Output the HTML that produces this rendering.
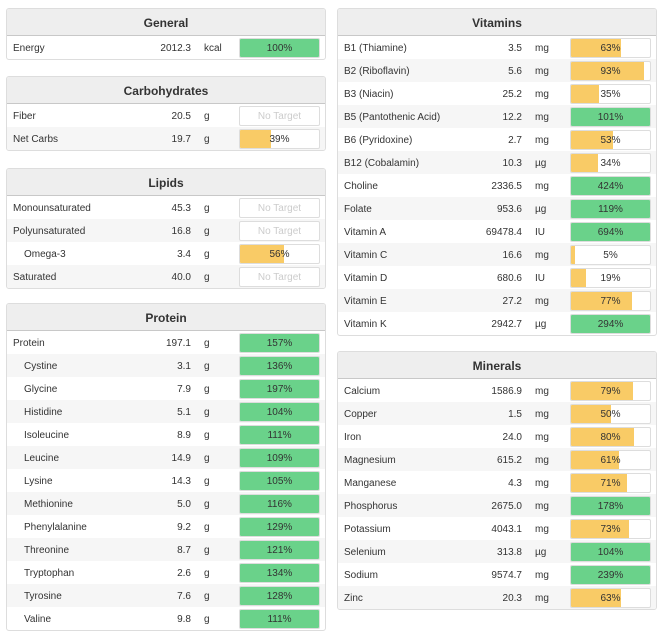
<!DOCTYPE html>
<html><head><meta charset="utf-8"><style>
body{margin:0;width:662px;height:638px;background:#fff;font-family:"Liberation Sans",sans-serif;font-size:10px;color:#333;position:relative;overflow:hidden}
.panel{position:absolute;width:318px;border:1px solid #ddd;border-radius:3px;background:#fff;overflow:hidden}
.hdr{height:26px;line-height:28px;background:#eee;border-bottom:1px solid #c8c8c8;text-align:center;font-weight:bold;font-size:12px;color:#333}
.row{position:relative;height:23px;line-height:25px}
.row:nth-child(even){background:#f6f6f6}
.nm{position:absolute;left:6px}
.nm.sub{left:17px}
.val{position:absolute;right:134px;text-align:right}
.unit{position:absolute;left:197px}
.bar{position:absolute;left:232px;top:2px;width:79px;height:18px;border:1px solid #ddd;border-radius:2px;background:#fff;overflow:hidden}
.fill{position:absolute;left:0;top:0;bottom:0}
.bt{position:absolute;left:0;right:0;top:0;line-height:20px;text-align:center;color:#333}
.bt.nt{color:#ccc}
</style></head><body>
<div id="root"></div>
<script>
const panels=[
 {title:"General",x:6,y:8,names:["Energy"],vals:["2012.3"],units:["kcal"],pcts:[100],sub:[0]},
 {title:"Carbohydrates",x:6,y:76,names:["Fiber","Net Carbs"],vals:["20.5","19.7"],units:["g","g"],pcts:[null,39],sub:[0,0]},
 {title:"Lipids",x:6,y:168,names:["Monounsaturated","Polyunsaturated","Omega-3","Saturated"],vals:["45.3","16.8","3.4","40.0"],units:["g","g","g","g"],pcts:[null,null,56,null],sub:[0,0,1,0]},
 {title:"Protein",x:6,y:303,names:["Protein","Cystine","Glycine","Histidine","Isoleucine","Leucine","Lysine","Methionine","Phenylalanine","Threonine","Tryptophan","Tyrosine","Valine"],vals:["197.1","3.1","7.9","5.1","8.9","14.9","14.3","5.0","9.2","8.7","2.6","7.6","9.8"],units:["g","g","g","g","g","g","g","g","g","g","g","g","g"],pcts:[157,136,197,104,111,109,105,116,129,121,134,128,111],sub:[0,1,1,1,1,1,1,1,1,1,1,1,1]},
 {title:"Vitamins",x:337,y:8,names:["B1 (Thiamine)","B2 (Riboflavin)","B3 (Niacin)","B5 (Pantothenic Acid)","B6 (Pyridoxine)","B12 (Cobalamin)","Choline","Folate","Vitamin A","Vitamin C","Vitamin D","Vitamin E","Vitamin K"],vals:["3.5","5.6","25.2","12.2","2.7","10.3","2336.5","953.6","69478.4","16.6","680.6","27.2","2942.7"],units:["mg","mg","mg","mg","mg","µg","mg","µg","IU","mg","IU","mg","µg"],pcts:[63,93,35,101,53,34,424,119,694,5,19,77,294],sub:[0,0,0,0,0,0,0,0,0,0,0,0,0]},
 {title:"Minerals",x:337,y:351,names:["Calcium","Copper","Iron","Magnesium","Manganese","Phosphorus","Potassium","Selenium","Sodium","Zinc"],vals:["1586.9","1.5","24.0","615.2","4.3","2675.0","4043.1","313.8","9574.7","20.3"],units:["mg","mg","mg","mg","mg","mg","mg","µg","mg","mg"],pcts:[79,50,80,61,71,178,73,104,239,63],sub:[0,0,0,0,0,0,0,0,0,0]}
];
const root=document.getElementById('root');
panels.forEach(p=>{
 const d=document.createElement('div');d.className='panel';
 
 
 d.style.left=p.x+'px';d.style.top=p.y+'px';
 const h=document.createElement('div');h.className='hdr';h.textContent=p.title;
 
 
 d.appendChild(h);
 const body=document.createElement('div');
 p.names.forEach((n,i)=>{
  const r=document.createElement('div');r.className='row';
  
  
  const pc=p.pcts[i];
  let barInner;
  if(pc===null){barInner='<div class="bt nt">No Target</div>';}
  else{const col=pc>=100?'#6ad28a':'#f9cb66';barInner='<div class="fill" style="width:'+Math.min(pc,100)+'%;background:'+col+'"></div><div class="bt">'+pc+'%</div>';}
  r.innerHTML='<span class="nm'+(p.sub[i]?' sub':'')+'">'+n+'</span><span class="val">'+p.vals[i]+'</span><span class="unit">'+p.units[i]+'</span><div class="bar">'+barInner+'</div>';
  const bar=r.querySelector('.bar');
  
  
  body.appendChild(r);
 });
 d.appendChild(body);root.appendChild(d);
});
</script>
</body></html>
